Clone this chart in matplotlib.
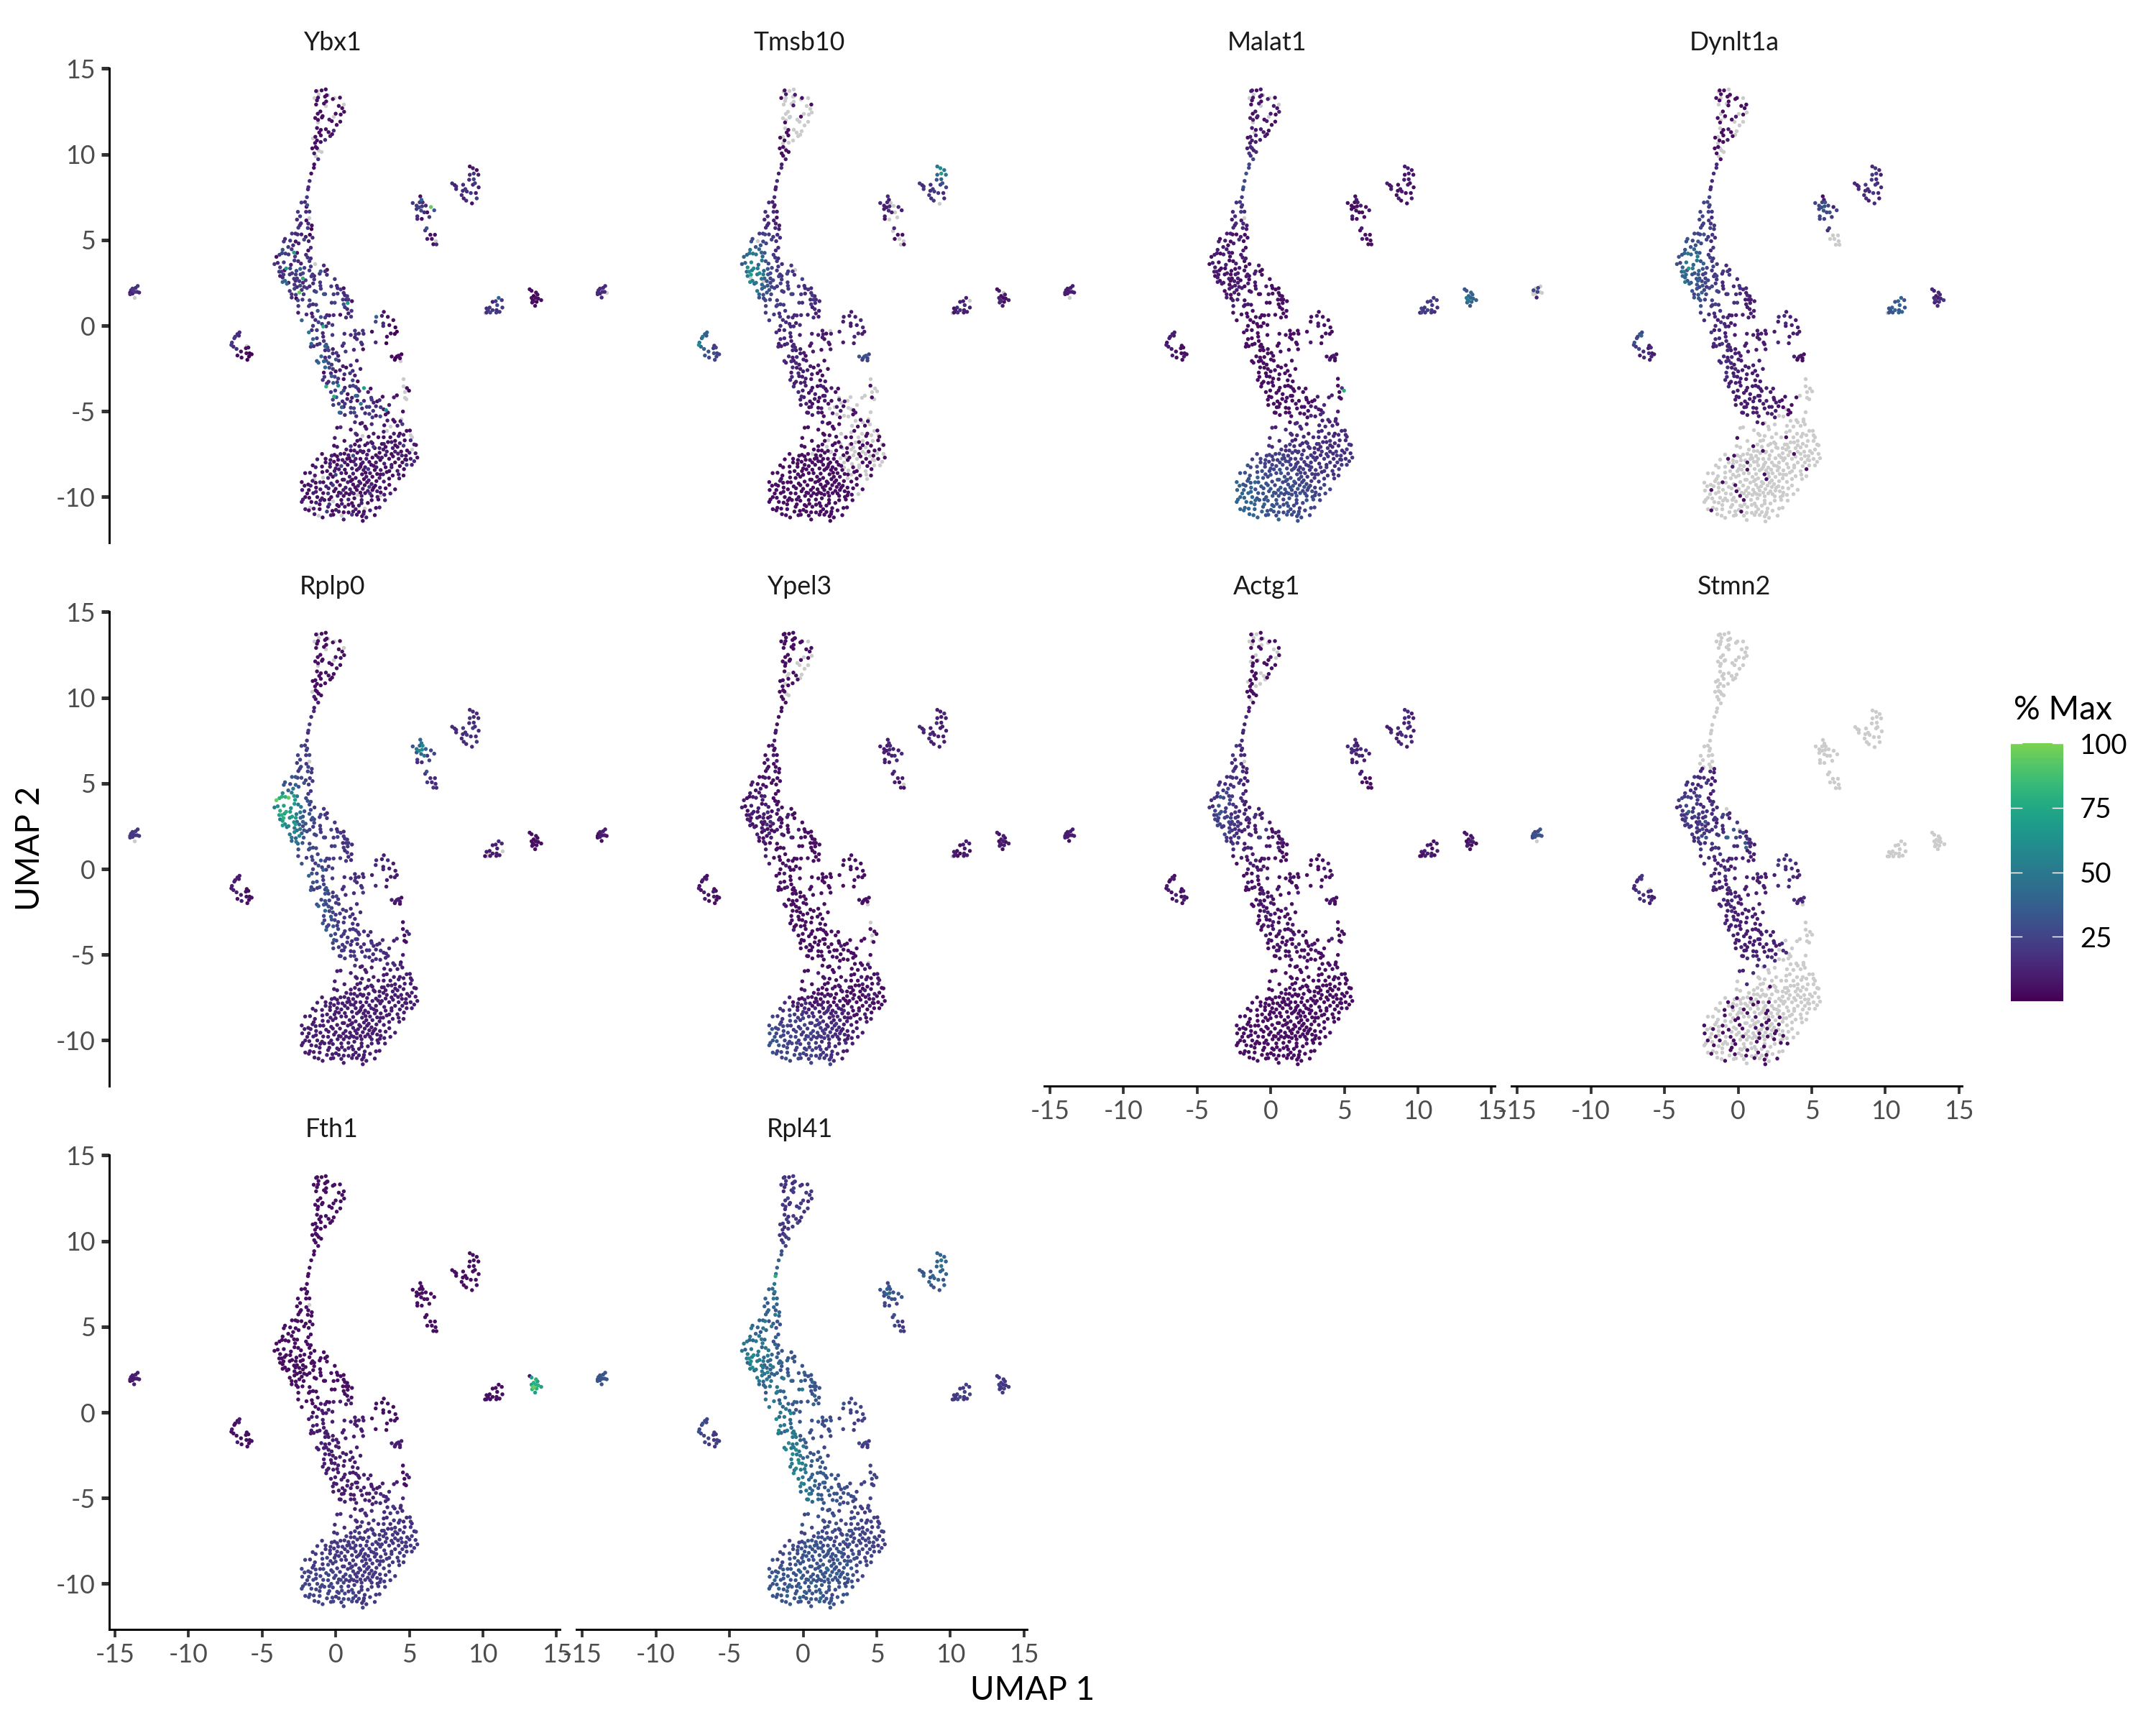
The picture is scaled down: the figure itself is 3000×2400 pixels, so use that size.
import numpy as np
import matplotlib
matplotlib.use("Agg")
import matplotlib.pyplot as plt
from matplotlib.colors import LinearSegmentedColormap, Normalize
from matplotlib.cm import ScalarMappable
from matplotlib.transforms import blended_transform_factory

plt.rcParams['font.family'] = ['Lato', 'DejaVu Sans']
plt.rcParams['axes.unicode_minus'] = False

GENES = ['Ybx1', 'Tmsb10', 'Malat1', 'Dynlt1a', 'Rplp0', 'Ypel3', 'Actg1', 'Stmn2', 'Fth1', 'Rpl41']
X_TICKS = [-15, -10, -5, 0, 5, 10, 15]
Y_TICKS = [-10, -5, 0, 5, 10, 15]
BAR_TICKS = [25, 50, 75, 100]
# expression key: '.' = not detected, otherwise % of the gene's maximum
LEVEL = {'0': 1, '1': 5, '2': 10, '3': 15, '4': 20, '5': 25, '6': 32, '7': 40, '8': 50, '9': 60, 'a': 70, 'b': 80, 'c': 95}

# each cell: UMAP 1, UMAP 2, level in the panels, in the order of GENES
top_cells = [
(-1.44,13.68,'1.2.111.14'),(-1.07,13.72,'1.1111..13'),(-.79,13.78,'1.2.111.14'),(-.84,13.36,'1.1111..13'),(-1.31,13.3,'1.2.111.14'),
(-1.38,13.14,'1.1111..13'),(-.73,13.44,'1.2.111.14'),(-.76,13.08,'1.1111..15'),(-.91,12.96,'1.2.111.14'),(-1.44,12.9,'1.1.111.13'),
(-.31,13.22,'1.2111..14'),(.17,13.3,'1.1.1.1.14'),(.09,12.82,'1.2111..14'),(.32,12.69,'1.1111..14'),(.45,12.48,'1.2.1.1.14'),
(.22,12.32,'1.1111..13'),(-.12,12.37,'1.2.1.1.14'),(-1.15,12.5,'1.2111..15'),(-1.33,12.37,'1.1.111.14'),(-1.0,12.23,'1.2111..14'),
(-1.05,12.15,'1.1.111.13'),(-1.5,12.12,'1.2111..14'),(-1.31,12.01,'1.2.111.14'),(-.55,12.03,'2.111.1.14'),(-.38,11.94,'1.2.1.1.15'),
(.19,11.91,'1.1.1.1.14'),(-.05,11.72,'1.1.1.1.13'),(-1.38,11.54,'1.2.111.14'),(-1.12,11.43,'11111.1.13'),(-.78,11.47,'1.2211.14'[:7]+'.14'),
(-.25,11.39,'3.1.1.1.14'),(-1.23,11.28,'11.11.1.15'),(-.6,11.3,'1.2111..14'),(-.36,11.18,'1.1.1.1.13'),(-.49,11.07,'2.2111..15'),
(-1.12,11.11,'1121111.14'),(-1.49,11.03,'1.2.111.14'),(-1.38,10.82,'11211.1.13'),(-1.13,10.73,'1.2111..14'),(-.83,10.85,'3.2211..14'),
(-1.51,10.67,'1.2.111.14'),(-1.7,10.36,'1121.11.14'),(-1.47,10.44,'1131111.13'),(-1.38,10.37,'1.3.111.15'),(-1.57,10.07,'2141211.14'),
(-1.3,9.73,'3251211.15'),(-1.37,13.72,'.121.1..13'),(-1.28,13.5,'.2.1.1..14'),(-1.6,13.28,'.1.1.1..14'),(-.67,13.47,'.2.1.1..14'),
(-.2,13.28,'.1.1.11.13'),(.43,12.9,'.1.1.11.14'),(-.78,12.85,'.2.1.11.14'),(-.27,12.2,'.1.2.11.14'),(-1.34,11.86,'.1.1.11.13'),
(-1.67,10.98,'.11111..14'),(-1.1,10.15,'.13.1.1.15'),(-1.47,9.93,'.13.11..15'),(-1.27,10.25,'.12.1.1.14'),
]
stem_cells = [
(-1.57,9.43,'1253212.16'),(-1.59,9.23,'1353312.16'),(-1.77,8.9,'1263313.17'),(-1.88,8.47,'3353412.17'),(-1.96,8.11,'3263423.18'),
(-1.99,7.98,'3253312.1b'),(-2.06,7.53,'4345423.18'),(-2.43,7.22,'4335514.17'),(-2.19,7.25,'3245423.17'),(-2.04,7.07,'6245513.18'),
(-2.09,6.97,'1234412.16'),(-2.67,6.68,'4335514.17'),(-2.12,6.68,'3345423.18'),(-1.89,6.69,'4234513.17'),(-2.73,6.23,'3325413.17'),
(-2.52,6.42,'4335523.16'),(-2.1,6.18,'1224413.17'),(-1.97,6.0,'3234512.16'),(-1.73,5.89,'1224413217'),(-2.0,5.74,'4335523318'),
(-1.75,5.68,'0224412217'),(-2.46,6.01,'3335513.17'),(-2.54,5.9,'3324423217'),(-2.64,5.76,'4335414317'),(-1.9,6.35,'.1.3.2...7'),
]
core_cells = [
(-3.07,5.42,'4425613417'),(-2.83,5.42,'3425614317'),(-2.69,5.37,'3515523318'),(-2.43,5.37,'2416513316'),(-1.86,5.35,'0314412216'),
(-2.14,5.23,'2424513317'),(-1.68,5.18,'3313412216'),(-2.25,5.07,'5535614418'),(-1.94,4.98,'2313412216'),(-3.54,5.11,'3516623317'),
(-3.19,5.01,'4.25513317'),(-3.62,4.96,'4626624418'),(-2.82,4.96,'1516713218'),(-2.62,4.85,'2525614417'),(-2.99,4.74,'3616825316'),
(-3.32,4.64,'4626714317'),(-1.8,4.6,'3314412316'),(-3.09,4.51,'4727825418'),(-1.97,4.44,'1323413217'),(-3.7,4.48,'6826925418'),
(-2.72,4.3,'1616824517'),(-2.93,4.32,'a727a24418'),(-3.74,4.28,'5827b13417'),(-3.3,4.21,'4827c25418'),(-3.91,4.19,'4726b14518'),
(-4.12,4.07,'1716c23418'),(-3.51,4.26,'4818b26517'),(-2.12,4.19,'3424513216'),(-2.01,4.03,'4425613317'),(-1.8,3.98,'3324512316'),
(-1.89,3.82,'4414512417'),(-1.55,3.65,'.314412316'),(-2.86,4.09,'4718a25418'),(-2.65,3.82,'3616824318'),(-2.9,3.86,'4818a15417'),
(-2.46,3.68,'2527823318'),(-3.14,3.61,'2727924418'),(-3.62,3.75,'4918a26518'),(-4.03,3.72,'3725913417'),(-4.25,3.65,'4616824318'),
(-3.87,3.46,'4927b15418'),(-3.46,3.4,'a91ab26719'),(-3.19,3.4,'5818a25418'),(-2.51,3.37,'7616834418'),(-2.23,3.43,'4525613317'),
(-.92,3.57,'3423412.16'),(-1.89,3.28,'4424613317'),(-1.8,3.51,'4415522316'),(-3.93,3.21,'4727a14418'),(-3.77,3.21,'4928b25419'),
(-3.57,3.29,'1816a26418'),(-3.64,3.04,'4a27b15519'),(-3.87,2.96,'2817825317'),(-3.7,2.87,'3.27a24418'),(-3.22,3.05,'4816925318'),
(-3.06,3.12,'4926a15518'),(-2.77,3.26,'5717823417'),(-2.81,3.05,'4816a25318'),(-2.49,3.05,'4624714317'),(-2.33,3.12,'5525623417'),
(-1.13,3.23,'6424523516'),(-.83,3.23,'3414412416'),(-.7,3.32,'1.13312316'),(-1.2,3.09,'4523423417'),(-.71,3.03,'3314412216'),
(-1.68,3.05,'4424613417'),(-1.76,2.94,'4524522317'),(-1.57,2.96,'3415513317'),(-2.33,2.82,'b525734618'),(-2.73,2.82,'4716724417'),
(-2.93,2.8,'4826925318'),(-2.83,2.68,'3.17a14418'),(-1.57,2.76,'4414512216'),(-.18,2.78,'4513412416'),(-3.7,2.61,'7928a25418'),
(-3.54,2.68,'7816915419'),(-3.41,2.51,'7727824417'),(-3.3,2.57,'2826914318'),(-2.57,2.66,'4625734417'),(-2.15,2.71,'4515623318'),
(-2.33,2.57,'3525514317'),(-1.17,2.59,'4423412316'),(-2.9,2.46,'4716824418'),(-2.52,2.4,'5626813519'),(-2.73,2.32,'3725824418'),
(-2.25,2.33,'4524613317'),(-2.06,2.26,'4525512417'),(-1.88,2.36,'3415523317'),(-1.64,2.53,'3524412416'),(-1.15,2.39,'4413412316'),
(-.42,2.36,'4423524616'),(-.04,2.39,'3314311.17'),(-1.12,2.22,'4423412317'),(-2.9,2.22,'5726915318'),(-2.41,2.15,'4625733417'),
(-3.22,2.09,'4816825418'),(-2.57,2.0,'c627914518'),(-1.55,2.09,'4415522317'),(-1.44,2.04,'5424513418'),(-.92,1.91,'6513523617'),
(-.83,1.91,'5414415716'),(-.26,1.9,'4423412517'),(.01,2.25,'3313411416'),(.22,2.18,'4413412516'),(.42,2.25,'1313312216'),
(.42,1.98,'3412411316'),(.01,1.94,'4313512416'),(-3.09,1.9,'4725824318'),(-2.81,1.87,'4616713417'),(-2.28,1.9,'4525624618'),
(-3.09,1.71,'3626714317'),(-2.78,1.66,'0516823417'),(-2.36,1.59,'4525613318'),(-2.67,1.55,'5526714317'),(-1.88,1.55,'5415512418'),
(.5,1.84,'3413411417'),(.66,1.79,'4312412316'),(.37,1.59,'4312311616'),(.58,1.59,'3412412316'),(.74,1.59,'4312411316'),
(.98,1.5,'1312311216'),(-.39,1.41,'4413412317'),(-.18,1.41,'5314512318'),(.42,1.32,'6412413716'),(.69,1.39,'a312411316'),
(-1.44,1.29,'4414512317'),(-1.65,1.32,'3425513417'),(-1.85,1.28,'4514612318'),(-1.93,1.21,'4424513318'),(-2.64,1.22,'4526623416'),
(.5,1.15,'4212311216'),(.66,1.04,'3312411317'),(.95,.94,'4212311216'),(-1.33,.94,'6414512417'),
]
stream_cells = [
(-2.65,.83,'2414521218'),(-2.09,.73,'3413412318'),(-1.73,.79,'2313512316'),(-.71,.69,'3312411217'),(-.55,.67,'2312412316'),
(-.26,.69,'3312411226'),(.19,.71,'1212411226'),(.74,.79,'2212311226'),(.58,.55,'3312411227'),(.92,.6,'4212311226'),
(-1.68,.6,'3413511318'),(-1.12,.58,'6313612327'),(-2.41,.39,'7413621318'),(-1.49,.41,'3312412217'),(-.83,.55,'4313511326'),
(-1.28,.28,'5314622318'),(-1.04,.18,'4313411227'),(-.6,.23,'3212412226'),(-.34,.12,'4312411326'),(-.96,.03,'b313712529'),
(-.76,.04,'3312412227'),(-1.65,.07,'4313512318'),(-1.73,-.18,'3212611227'),(-1.39,-.18,'4313521328'),(-1.93,-.31,'8314711329'),
(-.99,-.35,'3312512427'),(-.96,-.56,'3213411227'),(-.34,-.46,'4212412226'),(.47,-.39,'3212311226'),(.9,-.46,'3212311226'),
(1.18,-.21,'4212311326'),(1.23,-.42,'4212312225'),(1.44,-.38,'3112311226'),(1.71,-.21,'4.12311225'),(1.76,-.39,'3212311226'),
(1.18,-.6,'2212411226'),(1.31,-.7,'3112311225'),(-1.39,-.65,'4313611228'),(-1.65,-.7,'7313622328'),(-.92,-.81,'4213511227'),
(-.76,-1.02,'6313611328'),(-1.36,-1.02,'3212411227'),(-1.2,-.97,'4314522328'),(-1.76,-.97,'7213511329'),(-1.8,-1.14,'4312611228'),
(-1.6,-1.11,'3213411227'),(-.83,-1.11,'7212511228'),(-.67,-1.18,'6313612328'),(.43,-.95,'4212411226'),(.34,-1.09,'3112312225'),
(1.6,-.9,'4212311225'),(1.66,-1.0,'2112411226'),(-.31,-1.28,'2212411226'),(-.83,-1.35,'3313611228'),(-.6,-1.35,'5212512228'),
(.55,-1.42,'4212311226'),(1.11,-1.32,'3112311225'),(1.73,-1.29,'1212412225'),(-.31,-1.53,'3212411327'),(-.07,-1.5,'4212512227'),
(.05,-1.67,'2112411226'),(-.55,-1.74,'4313511328'),(-.83,-1.77,'3212612228'),(-1.09,-1.7,'7313511329'),(-.1,-1.88,'6212412228'),
(-1.39,-1.97,'6313621228'),(-1.28,-2.07,'7213711329'),(-.92,-1.99,'7313612228'),(-.76,-1.95,'6213511328'),(.09,-1.95,'3212411227'),
(1.31,-1.95,'2112311225'),(-.6,-2.09,'5313612329'),(-.39,-2.18,'4212511228'),(.37,-2.27,'2212411226'),(.59,-2.35,'1112411226'),
(.9,-2.22,'3212312226'),(-.83,-2.34,'7313711229'),(-.55,-2.36,'5212512328'),(-.31,-2.43,'4213512228'),(1.55,-2.43,'2112311225'),
(.17,-2.5,'2212411227'),(-.12,-2.57,'1212412227'),(1.03,-2.54,'3112311226'),(-.92,-2.64,'1213511228'),(-.44,-2.68,'3312612229'),
(.47,-2.74,'3212411227'),(.85,-2.68,'4112411226'),(-.39,-2.85,'7213611329'),(-.18,-2.88,'5212511228'),(.05,-2.99,'4212412228'),
(1.18,-2.81,'2112311226'),(-.88,-2.89,'4313511228'),(-.6,-3.17,'3212512229'),(-.99,-3.07,'4313611328'),(.42,-3.02,'1212411226'),
(1.03,-3.09,'5112411227'),(1.37,-3.15,'1212312226'),(-.28,-3.24,'6212612228'),(-.02,-3.2,'4212411228'),(-.71,-3.27,'3212511228'),
(-.76,-3.45,'b313721329'),(.05,-3.4,'9212512228'),(.85,-3.43,'4112411227'),(1.06,-3.4,'5212411226'),(.5,-3.52,'2112412227'),
(1.24,-3.47,'4212412227'),(1.39,-3.59,'3112311226'),(1.79,-3.54,'a212311226'),(2.24,-3.57,'1112311226'),(-.15,-3.68,'4212511228'),
(-.44,-3.77,'4312612228'),(.42,-3.68,'5212411227'),(.27,-3.82,'6112411227'),(1.47,-3.71,'3212412226'),(2.07,-3.77,'2112311226'),
(.69,-3.89,'1212411227'),(.98,-4.1,'2112311226'),(1.34,-3.99,'6212411226'),(1.23,-3.99,'7112411227'),(-.23,-4.03,'b312612229'),
(-.07,-4.07,'6212511228'),(.66,-4.17,'2212411227'),(.34,-4.31,'3112412227'),(-.31,-4.21,'4212511228'),(.9,-4.31,'3112311226'),
(1.34,-4.27,'1212311226'),(1.79,-4.28,'3112312226'),(2.28,-4.1,'4.12311225'),(2.31,-4.21,'4212411226'),(.5,-4.45,'4112411227'),
(.09,-4.45,'4212411228'),(-.28,-4.52,'4212511227'),(.29,-4.65,'7112412228'),(.42,-4.63,'2212411227'),(.9,-4.68,'4112311227'),
(1.11,-4.71,'5212411226'),(1.66,-4.72,'3.12311226'),(1.58,-4.45,'8112312227'),(1.98,-4.63,'4.12311226'),(2.15,-4.63,'4212411226'),
(2.44,-4.38,'2.12321225'),(2.68,-4.31,'1212312226'),(2.84,-4.24,'3.11311325'),(3.05,-4.04,'1.21311.25'),(3.49,-4.52,'2.31311.35'),
(2.6,-4.59,'3121311.36'),(2.92,-4.65,'4.21412336'),(3.28,-4.82,'9111311.36'),(3.41,-4.96,'1231311.35'),(3.12,-4.77,'2.2.311335'),
(.22,-4.97,'4212411228'),(.14,-4.96,'7112411227'),(.9,-4.96,'4212411327'),(1.14,-4.96,'5112412226'),(.5,-5.1,'3212411327'),
(1.27,-5.17,'3112311326'),(1.87,-5.0,'3212411226'),(2.15,-5.04,'4.12312326'),(2.41,-4.86,'4212311226'),(2.6,-5.14,'2.3.311.35'),
(2.36,-5.24,'4112311326'),(2.89,-5.18,'5.2.311.36'),(3.25,-5.07,'1131311.35'),(3.37,-5.42,'2.2.311.35'),(3.76,-5.38,'113.311.45'),
(3.86,-5.49,'1.2.311.34'),(4.25,-5.46,'213.321.35'),(1.18,-5.52,'3212411326'),
]
blob_upper = [
(-.02,-5.84,'113.211335'),(.21,-5.81,'312.211236'),(.9,-5.95,'113.221336'),(1.55,-5.6,'1131211.35'),(1.66,-5.56,'213.211336'),
(1.87,-5.77,'113.211.35'),(1.95,-5.9,'213.211.36'),(2.31,-5.63,'312.221.35'),(3.16,-5.7,'1.3.211.35'),(3.57,-5.77,'.13.211.45'),
(4.05,-5.72,'213.221.44'),(4.38,-5.63,'4.2.211.35'),(1.23,-6.18,'313.211.36'),(1.31,-6.25,'213.221.35'),(1.66,-6.28,'.13.211.45'),
(2.11,-6.36,'113.211.36'),(2.44,-6.18,'2.2.211.45'),(2.76,-6.39,'113.221.35'),(3.12,-6.07,'2.3.211.35'),(3.12,-6.39,'1131211.45'),
(3.33,-6.02,'.13.211.36'),(3.81,-6.18,'2.3.221.45'),(4.21,-6.18,'112.211.44'),(4.67,-6.02,'1.3.211.35'),(4.89,-6.0,'113.221.44'),
(4.46,-6.25,'2.3.211.35'),(-.18,-6.43,'2131211.36'),(.47,-6.6,'113.211335'),(1.55,-6.53,'2.2.211.46'),(1.34,-6.6,'113.211.35'),
(2.28,-6.67,'213.221.45'),(3.57,-6.39,'1.3.211.35'),(4.13,-6.32,'213.221.45'),(4.94,-6.25,'..3.211.44'),(5.02,-6.36,'.13.221.35'),
(-.23,-6.88,'114.211.35'),(-.02,-6.95,'213.221.45'),(.9,-6.91,'4131211.36'),(1.18,-6.81,'114.211.45'),(1.47,-6.91,'2.3.211.45'),
(1.87,-6.85,'113.221.36'),(2.03,-6.74,'213.211145'),(2.36,-6.74,'1.4.211.35'),(2.44,-6.95,'413.211.45'),(3.0,-6.78,'1.3.221.45'),
(3.13,-6.78,'214.211.46'),(3.41,-6.67,'1.3.211.35'),(3.65,-6.67,'213.211.45'),(3.89,-6.6,'1.4.221.44'),(4.21,-6.74,'213.211.45'),
(4.54,-6.57,'1.3.211.34'),(4.94,-6.57,'313.221.45'),(5.18,-6.81,'2.4.211.35'),(5.3,-6.84,'113.211.45'),(1.14,-7.16,'214.211.45'),
(.9,-7.16,'113.221.46'),(1.55,-7.18,'2141211.46'),(1.76,-7.22,'1.4.211.45'),(2.11,-7.16,'213.211.45'),(2.52,-7.02,'1.4.221.45'),
(2.84,-7.02,'213.211.46'),(3.25,-6.95,'1.3.211.45'),(3.73,-7.02,'214.211.45'),(4.05,-6.95,'1.3.221.35'),(4.46,-6.88,'413.211.45'),
(5.02,-7.09,'.14.211.44'),(4.7,-7.16,'113.221.45'),(3.33,-7.22,'2.4.211.45'),(2.84,-7.29,'113.211.46'),(3.89,-7.22,'2.3.211.45'),
(4.3,-7.22,'114.221.45'),(5.27,-7.32,'2.3.211.45'),
]
blob_middle = [
(-1.04,-7.36,'115.231.45'),(-.39,-7.46,'2141211.45'),(-.2,-7.41,'115.211145'),(.21,-7.36,'214.221.46'),(.47,-7.34,'1.5.211.46'),
(-1.36,-7.67,'215.231.45'),(-.02,-7.5,'114.221.46'),(.74,-7.43,'215.211146'),(1.06,-7.46,'514.211.46'),(1.34,-7.29,'114.221.46'),
(1.71,-7.27,'2.4.221.45'),(2.6,-7.43,'114.211.46'),(3.25,-7.43,'2.3.221.45'),(3.65,-7.36,'1141211.45'),(4.09,-7.34,'2.3.211.45'),
(4.62,-7.46,'114.221.45'),(4.86,-7.29,'2.3.211.45'),(5.39,-7.57,'114.211.44'),(-.47,-7.71,'215.231.45'),(-.8,-7.64,'1151211146'),
(.34,-7.71,'214.221.46'),(.66,-7.64,'115.211.46'),(1.23,-7.64,'214.221145'),(1.55,-7.64,'114.211.46'),(1.95,-7.64,'214.211145'),
(2.36,-7.57,'1.4.221.45'),(3.0,-7.57,'213.211.46'),(3.49,-7.64,'1.4.211.45'),(4.13,-7.64,'213.221.45'),(4.57,-7.68,'1.4.211.45'),
(4.94,-7.64,'213.211.44'),(5.18,-7.78,'3.4.211.45'),(-.8,-7.85,'115.231.45'),(-.5,-7.92,'215.211146'),(-.23,-7.81,'114.221.46'),
(.5,-7.85,'2152211.46'),(.9,-7.78,'115.221146'),(1.71,-7.85,'214.211.46'),(2.15,-7.82,'114.221.46'),(2.6,-7.85,'2.4.211.46'),
(2.89,-7.71,'114.211.45'),(3.16,-7.92,'2.3.221.45'),(3.89,-7.85,'114.211.45'),(3.65,-7.99,'2.3.211.45'),(4.38,-7.85,'114.221.45'),
(5.02,-7.99,'2.4.211.45'),(-1.67,-8.02,'116.241.45'),(-1.47,-8.13,'215.231.45'),(-1.04,-8.09,'116.241146'),(-.5,-8.1,'2152231.45'),
(-.02,-7.99,'115.231.46'),(.26,-8.06,'515.221146'),(.69,-7.99,'115.231.46'),(1.23,-7.99,'214.221.46'),(1.55,-8.1,'115.231.46'),
(1.87,-8.13,'214.221146'),(2.28,-7.99,'114.221.46'),(2.63,-8.13,'2.4.231.45'),(3.25,-8.13,'114.211.46'),(3.65,-8.13,'2.4.221.45'),
(4.21,-8.06,'113.211.45'),(4.67,-7.99,'4.4.211.45'),(-.12,-8.2,'215.241.46'),(.5,-8.27,'1161231146'),(.98,-8.2,'215.221.46'),
(1.31,-8.29,'115.231.46'),(1.76,-8.29,'214.221146'),(2.08,-8.24,'415.231.46'),(2.52,-8.29,'114.221.46'),(2.92,-8.29,'2.4.221.45'),
(3.33,-8.41,'113.211.46'),(4.05,-8.34,'2.4.221.45'),(4.49,-8.24,'1141211.45'),(-2.18,-8.47,'116.251.56'),(-1.85,-8.45,'216.241.45'),
(-1.02,-8.41,'115.251156'),(-1.52,-8.61,'216.241.45'),(-.47,-8.54,'115.241.46'),(-.12,-8.57,'516.251156'),(.26,-8.47,'215.241.46'),
(.58,-8.47,'116.231.46'),(1.06,-8.5,'215.231146'),(1.66,-8.54,'1151221.46'),(2.2,-8.47,'214.231.47'),(2.68,-8.52,'114.221146'),
(3.08,-8.54,'2.4.221.46'),(3.73,-8.61,'114.221.45'),(4.13,-8.54,'2.3.211.45'),(4.46,-8.61,'114.221.45'),(-.63,-8.75,'216.251.56'),
(-.31,-8.68,'115.241146'),(.82,-8.68,'216.241.46'),(1.23,-8.75,'115.231.46'),(1.95,-8.68,'215.221146'),(2.36,-8.68,'114.231.46'),
(2.84,-8.75,'2.4.221.46'),(3.49,-8.79,'114.211.45'),(4.17,-8.78,'2.4.221.45'),
]
blob_lower = [
(-2.41,-8.99,'117.251156'),(-1.68,-8.92,'226.251.46'),(-1.47,-9.03,'116.251.56'),(-1.17,-9.0,'3171251146'),(-1.97,-9.13,'116.251.56'),
(-.42,-9.07,'216.241.46'),(-.02,-8.96,'115.251146'),(.45,-8.85,'216.241.46'),(.9,-8.93,'115.241.46'),(1.47,-8.96,'216.231147'),
(1.79,-8.82,'1151231146'),(2.11,-8.89,'215.241.46'),(2.63,-8.93,'114.221146'),(3.13,-8.96,'214.221.46'),(-2.22,-9.2,'117.261.56'),
(-1.81,-9.2,'216.251156'),(-1.44,-9.31,'117.251.56'),(-.76,-9.24,'216.241156'),(-.31,-9.17,'4161251.57'),(.17,-9.17,'115.241146'),
(.55,-9.31,'216.251.56'),(1.06,-9.13,'115.241146'),(1.39,-9.21,'216.241.46'),(1.84,-9.17,'115.231146'),(2.15,-9.27,'416.231.47'),
(2.44,-9.31,'115.221146'),(2.87,-9.31,'214.221.46'),(3.25,-9.35,'115.221.46'),(3.89,-9.41,'115.221.45'),(-2.38,-9.45,'217.261156'),
(-1.93,-9.45,'1171251.57'),(-1.15,-9.41,'216.251156'),(-.12,-9.38,'116.241.56'),(.85,-9.41,'216.251.56'),(1.31,-9.45,'115.241146'),
(1.71,-9.38,'216.241.47'),(2.36,-9.45,'115.231146'),(2.68,-9.52,'216.231.46'),(-2.04,-9.65,'117.261.57'),(-1.63,-9.63,'217.251156'),
(-.96,-9.63,'116.251.56'),(-.63,-9.65,'416.251156'),(-.23,-9.52,'1161241.57'),(.22,-9.63,'215.251156'),(.58,-9.63,'116.241.46'),
(.95,-9.59,'215.241.46'),(1.87,-9.63,'116.231146'),(2.2,-9.65,'415.231.46'),(2.92,-9.59,'115.221146'),(3.57,-9.65,'2.5.221.45'),
(-2.17,-9.86,'117.261156'),(-2.33,-10.0,'217.261.56'),(-1.36,-9.86,'117.251156'),(-1.04,-9.93,'216.251.57'),(-.42,-9.86,'116.241156'),
(.01,-9.79,'2161251.56'),(.42,-9.79,'116.241.57'),(1.31,-9.72,'.15.241146'),(1.63,-9.79,'216.231.46'),(2.31,-9.79,'115.221146'),
(3.16,-9.72,'215.221.46'),(2.76,-10.0,'116.231146'),(-2.41,-10.14,'217.261.56'),(-1.76,-10.14,'117.261157'),(-1.44,-10.18,'217.251.56'),
(-.88,-10.03,'116.251.56'),(-.31,-10.07,'.16.241157'),(.26,-10.03,'1161251.56'),(.74,-10.0,'215.241.47'),(1.14,-9.93,'116.231146'),
(1.63,-10.03,'215.231.46'),(2.31,-10.04,'116.221.46'),(3.21,-10.04,'215.221146'),(-1.2,-10.28,'117.251.57'),(-.55,-10.28,'417.251156'),
(-.02,-10.32,'116.241.57'),(.5,-10.42,'216.251156'),(.98,-10.21,'116.241.56'),(1.63,-10.21,'215.231146'),(1.06,-10.38,'116.241.57'),
(-2.17,-10.56,'217.261.56'),(-1.93,-10.63,'1171251156'),(-1.6,-10.53,'217.251.56'),(-1.2,-10.56,'117.251.57'),(-.63,-10.42,'216.241156'),
(.09,-10.39,'116.251.56'),(1.23,-10.56,'215.241146'),(2.6,-10.49,'115.221.46'),(2.84,-10.46,'215.221.46'),(-.71,-10.7,'417.251.56'),
(-.34,-10.66,'116.251157'),(.09,-10.7,'2161241.56'),(.42,-10.74,'116.251156'),(1.06,-10.7,'216.241.57'),(1.79,-10.7,'115.231146'),
(2.2,-10.63,'215.231.46'),(-1.28,-10.91,'.17.261.56'),(-1.0,-11.04,'117.251157'),(-.44,-10.91,'216.251.56'),(-.28,-10.88,'116.241.56'),
(.98,-10.88,'416.251157'),(1.31,-10.88,'115.241.46'),(1.76,-10.84,'216.231.46'),(1.66,-10.97,'115.241146'),(1.95,-11.04,'215.231.46'),
(2.52,-10.91,'115.221146'),(.42,-11.16,'217.251.56'),(1.71,-11.24,'116.251156'),(.26,-10.93,'.15.241.46'),(-1.6,-8.8,'.16.241.46'),
(-1.0,-8.72,'.17.251.45'),(-1.86,-10.48,'.17.251.56'),(2.87,-9.76,'.15.221.45'),(1.84,-10.5,'.14.231.45'),
]
blob_extra = [
(.05,-7.7,'115.231.46'),(.6,-7.1,'214.211.45'),(1.0,-8.85,'116.241.46'),(1.45,-8.2,'215.231.46'),(1.6,-7.95,'114.231.46'),
(1.1,-7.8,'215.221.46'),(1.9,-8.45,'115.231.45'),(2.0,-7.4,'214.211.45'),(2.45,-8.05,'114.221.46'),(2.75,-7.55,'2.4.211.45'),
(.35,-8.85,'116.241.46'),(.7,-9.0,'215.241.46'),(1.2,-9.3,'116.241.46'),(1.55,-9.05,'215.231.47'),(2.0,-9.0,'115.231.46'),
(2.3,-9.1,'215.231.46'),(.1,-9.6,'116.241.46'),(.4,-9.45,'216.251.46'),(.8,-9.7,'115.241.46'),(1.1,-9.65,'216.241.46'),
(1.55,-9.6,'115.241.46'),(2.05,-9.5,'215.231.46'),(2.55,-9.2,'115.221.46'),(-.6,-9.35,'216.251.56'),(-.95,-9.0,'116.241.56'),
(-.2,-8.35,'215.241.46'),(-.7,-8.35,'116.241.56'),(.1,-8.25,'215.231.46'),(.8,-7.6,'114.221.46'),(3.5,-8.35,'114.211.45'),
(3.1,-7.1,'2.3.211.45'),(3.75,-7.5,'114.211.45'),(4.35,-7.45,'2.4.211.45'),(3.9,-6.85,'113.211.45'),(4.65,-7.7,'1.4.211.44'),
(2.9,-8.55,'114.221.46'),(-1.45,-9.55,'217.251.56'),(-.55,-10.0,'116.251.56'),(.3,-10.25,'216.241.56'),(.75,-10.3,'115.241.46'),
(-1.15,-10.05,'217.251.56'),(-1.9,-9.9,'117.261.56'),(-.1,-10.6,'216.251.46'),(.75,-10.75,'115.241.56'),(1.45,-10.35,'215.231.46'),
(2.05,-10.2,'115.231.46'),(2.7,-9.85,'215.221.45'),(3.5,-9.15,'115.221.45'),(1.45,-10.72,'116.241.56'),(-1.55,-10.85,'217.251.56'),
]
far_left = [
(-13.48,2.38,'432.422626'),(-13.62,2.27,'3325422526'),(-13.38,2.0,'3.2.412626'),(-13.83,2.23,'432.422526'),(-13.93,2.13,'3325412626'),
(-13.77,2.08,'4.2.422616'),(-13.99,2.0,'132.412526'),(-13.83,1.94,'232.422626'),(-13.66,2.04,'4325412526'),(-13.52,2.04,'332.422626'),
(-13.72,1.71,'.3.2.11.26'),(-13.99,1.9,'332.412516'),
]
left_pair = [
(-6.61,-.31,'3725211425'),(-6.75,-.41,'3726212315'),(-6.9,-.56,'4825221316'),(-6.65,-.5,'3627222425'),(-6.96,-.65,'4725211315'),
(-7.12,-.9,'4816212325'),(-7.16,-1.04,'4925221316'),(-7.02,-1.14,'3724212315'),(-6.81,-1.27,'3725221415'),(-6.51,-1.42,'1613212315'),
(-6.75,-1.65,'1622121325'),(-6.47,-1.77,'1513212314'),(-6.12,-1.08,'.412111.14'),(-6.01,-1.19,'1513112314'),(-6.18,-1.23,'1412121314'),
(-5.93,-1.52,'0512112215'),(-6.14,-1.52,'1613121314'),(-5.79,-1.58,'0512111214'),(-5.97,-1.71,'0523112315'),(-6.08,-1.9,'0512111214'),
]
cluster_a = [
(5.59,7.58,'1311723.15'),(5.67,7.38,'7222832.16'),(5.08,7.19,'4315623.16'),(5.55,7.23,'4315723.17'),(5.75,7.23,'3.26932.16'),
(5.34,7.04,'4215823.16'),(5.51,6.94,'5216923.17'),(5.71,7.0,'4316932.17'),(5.96,7.04,'3.25723.16'),(6.31,6.96,'c312523.16'),
(6.53,6.77,'6225532.16'),(5.34,6.84,'4215623.15'),(5.65,6.75,'5316722.16'),(5.86,6.65,'3215823.16'),(6.06,6.65,'1.16432.16'),
(5.39,6.42,'3225422.15'),(5.69,6.27,'1.15322.15'),(6.2,6.38,'4.14532.15'),(6.02,5.73,'6324632.16'),(5.92,5.6,'4.13422.15'),
(6.27,5.35,'111.321.15'),(6.06,5.11,'212.421.15'),(6.37,5.11,'1.1.311.14'),(6.58,5.35,'111.321.14'),(6.47,4.8,'1.1.421.15'),
(6.68,4.79,'311.311.14'),(6.62,5.02,'..1.3.1.14'),(5.39,6.27,'3115322.15'),
]
cluster_b = [
(8.93,9.31,'1823323.17'),(9.14,9.21,'2924323.17'),(9.4,9.1,'1823332.17'),(9.2,8.9,'4a24323.18'),(9.51,8.83,'2812322.17'),
(8.93,8.83,'3714423.17'),(8.89,8.54,'3624332.17'),(9.2,8.57,'5723323.18'),(9.28,8.34,'4613322.17'),(9.14,8.25,'3524423.17'),
(9.53,8.1,'2513322.17'),(7.74,8.33,'3423332.16'),(7.91,8.23,'2312322.16'),(8.01,8.0,'3423323.17'),(8.48,8.25,'3314423.16'),
(8.63,8.0,'4423323.17'),(8.46,7.9,'3313332.16'),(9.0,7.77,'4414323.17'),(8.73,7.86,'3423423.17'),(9.34,7.77,'2313322.16'),
(8.38,7.65,'3413332.17'),(8.52,7.46,'2323322.16'),(8.69,7.33,'3412323.16'),(9.08,7.17,'1.13322.16'),(9.4,7.46,'4322423.17'),
(8.01,8.15,'3323332.16'),
]
cluster_c = [
(10.88,1.69,'7247321.15'),(10.68,1.5,'4247221.14'),(10.47,1.46,'2246212.14'),(11.09,1.56,'4.46322.14'),(10.78,1.27,'5347221.15'),
(11.13,1.13,'4236.12.15'),(10.27,1.13,'4347212.14'),(10.06,1.08,'3156222.14'),(10.16,.98,'4246.21.14'),(10.47,.98,'4357212.15'),
(10.74,.98,'3246222.14'),(10.94,.88,'4237221.14'),(10.31,.84,'5346212.15'),(10.06,.84,'3156.21.14'),(10.72,.84,'4247222.14'),
(9.96,.83,'..2.1.1.14'),
]
cluster_d = [
(12.97,2.19,'1163121.14'),(13.1,2.1,'1262112.a4'),(13.4,2.0,'1.73121.b4'),(13.5,1.88,'1273112.a4'),(13.24,1.8,'0172121.b4'),
(13.1,1.69,'1283111.a5'),(13.38,1.69,'1172122.b4'),(13.75,1.56,'1274121.a4'),(13.24,1.5,'1382112.c4'),(13.44,1.46,'0173121.b5'),
(13.14,1.42,'1272122.b4'),(13.34,1.23,'1263111.a4'),(13.18,1.56,'0384121.c4'),(13.55,1.65,'1173112.b4'),
]
cluster_e = [
(3.13,.88,'1212211315'),(2.62,.59,'7213311416'),(3.0,.65,'2223211315'),(3.4,.59,'1212311415'),(3.77,.4,'1312212315'),
(2.58,.31,'5212311415'),(3.09,.21,'3223211315'),(3.5,.11,'1212212315'),(3.91,-.02,'0312211215'),(3.09,.06,'3222311315'),
(4.01,-.27,'0212212315'),(3.6,-.37,'1312211314'),(3.87,-.4,'0212211215'),(3.34,-.56,'1312211314'),(3.3,-.94,'0212212314'),
(2.58,-.89,'3223311315'),(2.33,-.27,'1212211215'),
]
cluster_f = [
(3.66,-1.71,'1612211325'),(3.91,-1.81,'0511212324'),(4.12,-1.66,'1621211225'),(4.32,-1.58,'0511111324'),(4.01,-1.71,'0612212225'),
(4.22,-1.81,'1511211324'),(3.87,-1.9,'0421111224'),(4.22,-1.94,'.5111.1.24'),
]
cluster_g = [
(4.42,-3.0,'..1.1.1.15'),(4.42,-3.4,'.11.111.15'),(4.69,-3.54,'1.4.311.25'),(4.83,-3.69,'0.b.311.25'),(4.52,-3.77,'..1.1.1.15'),
(4.52,-4.08,'.11.1.1.14'),(4.63,-4.15,'..1.111.15'),(4.01,-3.96,'1.2.312.25'),(3.81,-4.08,'2.21211.25'),(4.42,-4.9,'1.2.211.35'),
(4.28,-5.33,'..2.1.1.35'),
]
REGIONS = [top_cells, stem_cells, core_cells, stream_cells, blob_upper, blob_middle, blob_lower, blob_extra, far_left, left_pair,
           cluster_a, cluster_b, cluster_c, cluster_d, cluster_e, cluster_f, cluster_g]

W, H = 3000, 2400
COL_LEFT = [151.5, 802, 1452.5, 2103]
ROW_TOP = [95, 851, 1607]
AX_W, AX_H = 627, 660
XLIM = (-15.4, 15.2)
YLIM = (-12.67, 15.02)
# my readings were taken against slightly different gridlines; corrects them to the axis scale
READ_X = (1.0063, 0.122)
READ_Y = (1.0067, -0.084)
# panels that keep an x axis
X_AXIS_PANELS = {'Actg1', 'Stmn2', 'Fth1', 'Rpl41'}

cmap = LinearSegmentedColormap.from_list('vir', plt.cm.viridis(np.linspace(0, 0.8, 256)))
norm = Normalize(0, 100)

fig = plt.figure(figsize=(W / 300, H / 300), dpi=300, facecolor='white')

def box(l, t, w, h):
    return [l / W, 1 - (t + h) / H, w / W, h / H]

cells = [c for reg in REGIONS for c in reg]
xs = np.array([c[0] for c in cells]) * READ_X[0] + READ_X[1]
ys = np.array([c[1] for c in cells]) * READ_Y[0] + READ_Y[1]

for i, gene in enumerate(GENES):
    col, row = i % 4, i // 4
    ax = fig.add_axes(box(COL_LEFT[col], ROW_TOP[row], AX_W, AX_H))
    codes = [c[2][i] if i < len(c[2]) else '1' for c in cells]
    grey = np.array([k == '.' for k in codes])
    vals = np.array([LEVEL.get(k, 5) for k in codes], dtype=float)
    ax.scatter(xs[grey], ys[grey], s=1.7, c='#CCCCCC', linewidths=0, zorder=1)
    order = np.argsort(vals[~grey], kind='stable')
    ax.scatter(xs[~grey][order], ys[~grey][order], s=1.7, c=vals[~grey][order], cmap=cmap, norm=norm, linewidths=0, zorder=2)
    ax.set_xlim(XLIM); ax.set_ylim(YLIM)
    for s in ['top', 'right']:
        ax.spines[s].set_visible(False)
    for s in ['left', 'bottom']:
        ax.spines[s].set_linewidth(0.7); ax.spines[s].set_color('black')
    if col == 0:
        ax.set_yticks(Y_TICKS)
        ax.tick_params(axis='y', length=2.7, width=1.2, color='#333333', labelsize=8.6, labelcolor='#4D4D4D', pad=1.8)
    else:
        ax.spines['left'].set_visible(False)
        ax.set_yticks([])
    if gene in X_AXIS_PANELS:
        ax.set_xticks(X_TICKS)
        ax.tick_params(axis='x', length=2.7, width=0.9, color='#333333', labelsize=8.6, labelcolor='#4D4D4D', pad=1.8)
    else:
        ax.spines['bottom'].set_visible(False)
        ax.set_xticks([])
    fig.text((COL_LEFT[col] + AX_W / 2 - 3) / W, 1 - (ROW_TOP[row] - 35) / H, gene, ha='center', va='center',
             fontsize=8.6, color='#1A1A1A')

fig.text(1437 / W, 1 - 2352 / H, 'UMAP 1', ha='center', va='center', fontsize=11, color='black')
fig.text(42 / W, 1 - 1180 / H, 'UMAP 2', ha='center', va='center', rotation=90, fontsize=11, color='black')

cax = fig.add_axes(box(2798, 1034, 73, 359))
cb = fig.colorbar(ScalarMappable(norm=norm, cmap=cmap), cax=cax)
cb.outline.set_visible(False)
cb.set_ticks(BAR_TICKS)
cax.tick_params(length=0, labelsize=9.2, labelcolor='black', pad=5.5)
trans = blended_transform_factory(cax.transAxes, cax.transData)
for t in BAR_TICKS:
    cax.plot([0, 0.2], [t, t], color='white', lw=0.35, transform=trans, clip_on=False)
    cax.plot([0.8, 1], [t, t], color='white', lw=0.35, transform=trans, clip_on=False)
fig.text(2871 / W, 1 - 988 / H, '% Max', ha='center', va='center', fontsize=11, color='black')

fig.savefig('out.png', dpi=300, facecolor='white')
